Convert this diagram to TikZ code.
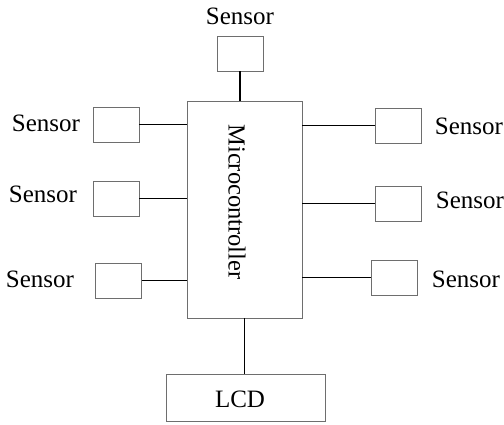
\documentclass[tikz,border=0pt]{standalone}
\usepackage{fontspec}
\setmainfont{Liberation Serif}
\usepackage{tikz}
\usetikzlibrary{positioning,calc}
\definecolor{boxgray}{RGB}{110,110,110}

\begin{document}
\begin{tikzpicture}[x=1pt, y=-1pt,
    sensorbox/.style={draw=boxgray, line width=0.9pt, minimum width=46pt, minimum height=35pt, inner sep=0pt},
    lbl/.style={font=\fontsize{25}{29}\selectfont, inner sep=0pt},
    wire/.style={draw=black, line width=1.1pt}]
  \useasboundingbox (0,0) rectangle (504,425);

  % Microcontroller
  \node[draw=boxgray, line width=0.9pt, minimum width=115pt, minimum height=217pt, inner sep=0pt] (mcu) at (244.5, 209.5) {};
  \node[lbl, font=\fontsize{24.5}{28}\selectfont, rotate=-90] (mcutext) at (237, 202) {Microcontroller};

  % Sensor boxes
  \node[sensorbox] (top) at (240, 53.5) {};
  \node[sensorbox] (lsA) at (116, 124.5) {};
  \node[sensorbox] (lsB) at (116, 198.5) {};
  \node[sensorbox] (lsC) at (118.5, 280.5) {};
  \node[sensorbox] (rsA) at (398, 125.5) {};
  \node[sensorbox] (rsB) at (398, 203.5) {};
  \node[sensorbox] (rsC) at (394, 277.5) {};

  % LCD
  \node[draw=boxgray, line width=0.9pt, minimum width=159pt, minimum height=47pt, inner sep=0pt] (lcd) at (245.5, 397.5) {};
  \node[lbl] (lcdtext) at (240, 399) {LCD};

  % Labels
  \node[lbl] (topL) at (240, 16) {Sensor};
  \node[lbl] (lsAL) at (46, 123) {Sensor};
  \node[lbl] (lsBL) at (43, 194) {Sensor};
  \node[lbl] (lsCL) at (40, 279) {Sensor};
  \node[lbl] (rsAL) at (469, 126) {Sensor};
  \node[lbl] (rsBL) at (470, 200) {Sensor};
  \node[lbl] (rsCL) at (466, 279) {Sensor};

  % Wires
  \draw[wire] (top.south) -- (top.south |- mcu.north);
  \draw[wire] (lsA.east) -- (lsA.east -| mcu.west);
  \draw[wire] (lsB.east) -- (lsB.east -| mcu.west);
  \draw[wire] (lsC.east) -- (lsC.east -| mcu.west);
  \draw[wire] (rsA.west) -- (rsA.west -| mcu.east);
  \draw[wire] (rsB.west) -- (rsB.west -| mcu.east);
  \draw[wire] (rsC.west) -- (rsC.west -| mcu.east);
  \draw[wire] (mcu.south) -- (mcu.south |- lcd.north);
\end{tikzpicture}
\end{document}
